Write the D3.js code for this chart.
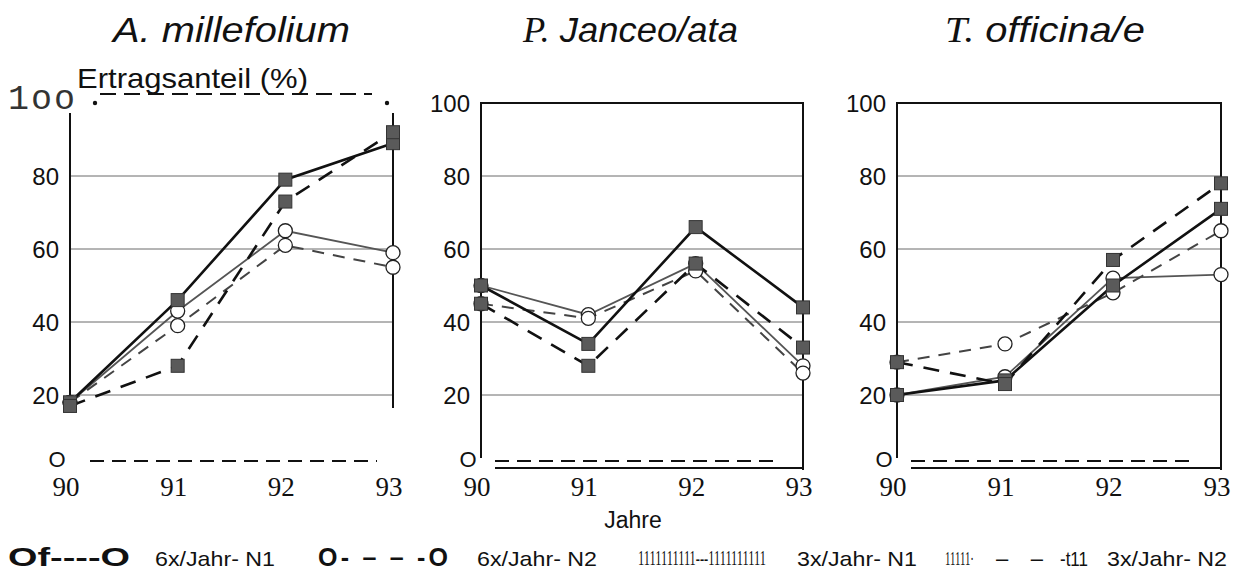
<!DOCTYPE html>
<html>
<head>
<meta charset="utf-8">
<script src="https://cdn.jsdelivr.net/npm/d3@7"></script>
<style>
  body { margin: 0; background: #fff; }
  svg { display: block; }
  text { font-family: "Liberation Sans", Arial, sans-serif; fill: #111; }
</style>
</head>
<body>
<svg id="chart" width="1236" height="572"></svg>
<script>
// years on the x axis, y ticks
const years = [90, 91, 92, 93];
const yTicks = [20, 40, 60, 80];

// A. millefolium
const milSixN1 = [18, 43, 65, 59];
const milSixN2 = [18, 39, 61, 55];
const milThreeN1 = [18, 46, 79, 89];
const milThreeN2 = [17, 28, 73, 92];

// P. lanceolata
const lanSixN1 = [50, 42, 56, 28];
const lanSixN2 = [45, 41, 54, 26];
const lanThreeN1 = [50, 34, 66, 44];
const lanThreeN2 = [45, 28, 56, 33];

// T. officinale
const offSixN1 = [20, 25, 52, 53];
const offSixN2 = [29, 34, 48, 65];
const offThreeN1 = [20, 24, 50, 71];
const offThreeN2 = [29, 23, 57, 78];

const legendLabels = ["6x/Jahr- N1", "6x/Jahr- N2", "3x/Jahr- N1", "3x/Jahr- N2"];

const svg = d3.select("#chart");

const y = d3.scaleLinear().domain([0, 100]).range([468, 103]);

const panels = [
  { x0: 70, x1: 393, series: [milSixN1, milSixN2, milThreeN1, milThreeN2], first: true },
  { x0: 481, x1: 803, series: [lanSixN1, lanSixN2, lanThreeN1, lanThreeN2] },
  { x0: 897, x1: 1221, series: [offSixN1, offSixN2, offThreeN1, offThreeN2] }
];

// style per series: circle/square, solid/dashed
const styles = [
  { mark: "circle", dash: null, width: 1.8, color: "#555" },
  { mark: "circle", dash: "12,9", width: 2, color: "#444" },
  { mark: "square", dash: null, width: 2.6, color: "#111" },
  { mark: "square", dash: "16,11", width: 2.6, color: "#111" }
];

panels.forEach(p => {
  const x = d3.scalePoint().domain(years).range([p.x0, p.x1]);
  const g = svg.append("g");
  const top = p.first ? 113 : 102;

  // grid lines
  g.selectAll(".grid").data(yTicks).enter().append("line")
    .attr("x1", p.x0).attr("x2", p.x1)
    .attr("y1", d => y(d)).attr("y2", d => y(d))
    .attr("stroke", "#6a6a6a").attr("stroke-width", 1);

  // frame
  g.append("line").attr("x1", p.x0).attr("x2", p.x0)
    .attr("y1", top).attr("y2", p.first ? 408 : 458)
    .attr("stroke", "#111").attr("stroke-width", 2);
  g.append("line").attr("x1", p.x1).attr("x2", p.x1)
    .attr("y1", top).attr("y2", p.first ? 408 : 470)
    .attr("stroke", "#111").attr("stroke-width", 2);
  if (!p.first) {
    g.append("line").attr("x1", p.x0).attr("x2", p.x1)
      .attr("y1", y(100)).attr("y2", y(100))
      .attr("stroke", "#111").attr("stroke-width", 2);
    g.append("line").attr("x1", p.x0 + 14).attr("x2", p.x1)
      .attr("y1", 468).attr("y2", 468)
      .attr("stroke", "#111").attr("stroke-width", 2);
  }
  // dashed bottom line
  g.append("line").attr("x1", p.x0 + (p.first ? 20 : 14)).attr("x2", p.x1 - (p.first ? 16 : 24))
    .attr("y1", 461).attr("y2", 461)
    .attr("stroke", "#111").attr("stroke-width", 2.2).attr("stroke-dasharray", "14,8");

  // y tick labels
  g.selectAll(".ylab").data(yTicks).enter().append("text")
    .attr("x", p.x0 - 11).attr("y", d => y(d) + 9)
    .attr("text-anchor", "end").attr("font-size", 24)
    .text(d => d);
  if (!p.first) {
    g.append("text").attr("x", p.x0 - 11).attr("y", y(100) + 9)
      .attr("text-anchor", "end").attr("font-size", 24).text("100");
  }
  g.append("text").attr("x", p.x0 - 13).attr("y", 467)
    .attr("text-anchor", "middle").attr("font-size", 22).text("O");

  // x tick labels
  g.selectAll(".xlab").data(years).enter().append("text")
    .attr("x", d => x(d) - 4).attr("y", 496)
    .attr("text-anchor", "middle").attr("font-size", 27)
    .style("font-family", "'Liberation Serif', 'Times New Roman', serif")
    .text(d => d);

  // lines
  const line = d3.line().x((d, i) => x(years[i])).y(d => y(d));
  p.series.forEach((s, k) => {
    const st = styles[k];
    g.append("path").datum(s)
      .attr("d", line).attr("fill", "none")
      .attr("stroke", st.color).attr("stroke-width", st.width)
      .attr("stroke-dasharray", st.dash);
  });

  // markers
  p.series.forEach((s, k) => {
    const st = styles[k];
    if (st.mark === "circle") {
      g.selectAll(null).data(s).enter().append("circle")
        .attr("cx", (d, i) => x(years[i])).attr("cy", d => y(d)).attr("r", 7)
        .attr("fill", "#fff").attr("stroke", "#222").attr("stroke-width", 1.3);
    } else {
      g.selectAll(null).data(s).enter().append("rect")
        .attr("x", (d, i) => x(years[i]) - 6.5).attr("y", d => y(d) - 6.5)
        .attr("width", 13).attr("height", 13)
        .attr("fill", "#5a5a5a").attr("stroke", "#333").attr("stroke-width", 1);
    }
  });
});

// first panel top: OCR-like header
svg.append("text").attr("x", 8).attr("y", 109).attr("font-size", 35)
  .style("letter-spacing", "2px").style("fill", "#333")
  .style("font-family", "'Liberation Mono', 'DejaVu Sans Mono', monospace")
  .text("1oo");
svg.append("circle").attr("cx", 95).attr("cy", 103).attr("r", 2.2).attr("fill", "#111");
svg.append("circle").attr("cx", 387).attr("cy", 103).attr("r", 2.2).attr("fill", "#111");
svg.append("line").attr("x1", 100).attr("x2", 372).attr("y1", 94).attr("y2", 94)
  .attr("stroke", "#111").attr("stroke-width", 2).attr("stroke-dasharray", "16,8");
svg.append("text").attr("x", 77).attr("y", 88).attr("font-size", 28)
  .attr("textLength", 231).attr("lengthAdjust", "spacingAndGlyphs")
  .text("Ertragsanteil (%)");

// titles
const titleData = [
  { x: 113, w: 237, a: "A.", b: " millefolium", serif: false },
  { x: 523, w: 215, a: "P.", b: " Janceo/ata", serif: true },
  { x: 945, w: 200, a: "T.", b: " officina/e", serif: true }
];
titleData.forEach(t => {
  const tx = svg.append("text").attr("x", t.x).attr("y", 42)
    .attr("font-size", 35).style("font-style", "italic")
    .attr("textLength", t.w).attr("lengthAdjust", "spacingAndGlyphs");
  tx.append("tspan").text(t.a)
    .style("font-family", t.serif ? "'Liberation Serif', serif" : null);
  tx.append("tspan").text(t.b);
});

svg.append("text").attr("x", 633).attr("y", 528).attr("text-anchor", "middle")
  .attr("font-size", 23).text("Jahre");

// legend
const lg = svg.append("g");
lg.append("text").attr("x", 8).attr("y", 566).attr("font-size", 25).attr("font-weight", "bold")
  .attr("textLength", 122).attr("lengthAdjust", "spacingAndGlyphs").text("Of----O");
lg.append("text").attr("x", 318).attr("y", 566).attr("font-size", 25).attr("font-weight", "bold")
  .attr("textLength", 130).attr("lengthAdjust", "spacing").text("O- \u2013 \u2013 -O");
lg.append("g").attr("transform", "translate(638,565) scale(0.62,1)")
  .append("text").attr("x", 0).attr("y", 0).attr("font-size", 20)
  .style("font-family", "'Liberation Serif', serif").text("1111111111---1111111111");
lg.append("g").attr("transform", "translate(945,565) scale(0.6,1)")
  .append("text").attr("x", 0).attr("y", 0).attr("font-size", 18)
  .style("font-family", "'Liberation Serif', serif").text("11111\u00b7");
lg.append("text").attr("x", 996).attr("y", 566).attr("font-size", 22)
  .attr("textLength", 47).attr("lengthAdjust", "spacing").text("\u2013  \u2013");
lg.append("text").attr("x", 1060).attr("y", 566).attr("font-size", 21)
  .attr("textLength", 28).attr("lengthAdjust", "spacingAndGlyphs").text("-t11");
const legX = [155, 477, 797, 1107];
lg.selectAll(".ll").data(legendLabels).enter().append("text")
  .attr("x", (d, i) => legX[i]).attr("y", 566).attr("font-size", 21)
  .attr("textLength", 120).attr("lengthAdjust", "spacingAndGlyphs")
  .text(d => d);
</script>
</body>
</html>
